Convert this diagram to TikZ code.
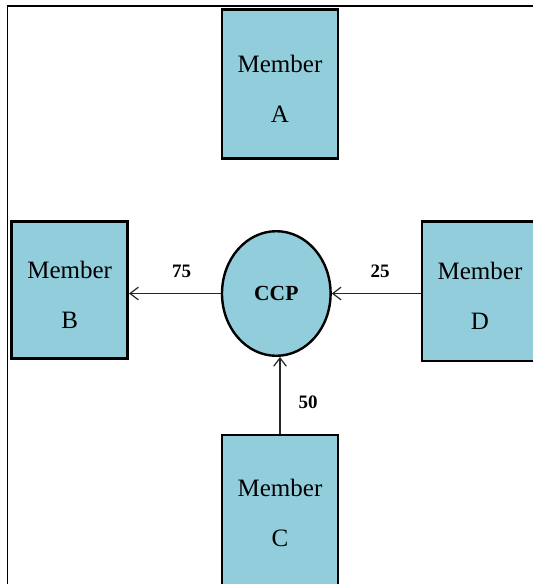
\documentclass[tikz,border=0pt]{standalone}
\usepackage{fontspec}
\setmainfont{Liberation Serif}
\usetikzlibrary{shapes.geometric,arrows.meta}
\definecolor{memberfill}{HTML}{92CDDC}
% two-line member caption; invisible struts above / below shift the text block
\newcommand{\memberlabel}[3]{\rule{0pt}{#1}Member\\#3\rule[-#2]{0pt}{0pt}}
\begin{document}
\begin{tikzpicture}[x=1pt,y=-1pt,
  member/.style={draw=black, line width=2.8pt, fill=memberfill,
    minimum width=116pt, inner sep=0pt, align=center,
    font=\fontsize{25}{50}\selectfont},
  hub/.style={ellipse, draw=black, line width=2.4pt, fill=memberfill,
    minimum width=108.6pt, minimum height=124.6pt, inner sep=0pt,
    font=\fontsize{21.5}{24}\selectfont\bfseries},
  flow/.style={draw=black!85, line width=1.2pt,
    -{Straight Barb[length=8.3pt,width=12.7pt,line width=1.2pt]}},
  amount/.style={font=\fontsize{19}{22}\selectfont\bfseries, inner sep=0pt}]
\useasboundingbox (0,0) rectangle (533,584);
\clip (0,0) rectangle (533,584);

% outer frame
\draw[line width=1.7pt] (7.5,620) -- (7.5,6) -- (580,6);

% members and the clearing house
\node[member, minimum height=148.5pt] (ma) at (280,84)    {\memberlabel{27pt}{0pt}{A}};
\node[member, minimum height=136.6pt] (mb) at (69.7,290)  {\memberlabel{27pt}{0pt}{B}};
\node[member, minimum height=170pt]   (mc) at (280,520)   {\memberlabel{0pt}{13.6pt}{C}};
\node[member, minimum height=139.3pt] (md) at (480,291.4) {\memberlabel{27pt}{0pt}{D}};
\node[hub] (ccp) at (276.3,293.5) {CCP};

% flows
\draw[flow] (ccp.west) -- (ccp.west -| mb.east);
\draw[flow] (md.west |- ccp.east) -- (ccp.east);
\draw[flow] (mc.north) -- (mc.north |- ccp.south);

% amounts
\node[amount] (n75) at (181.7,271) {75};
\node[amount] (n25) at (380,271.5) {25};
\node[amount] (n50) at (308,402) {50};
\end{tikzpicture}
\end{document}
